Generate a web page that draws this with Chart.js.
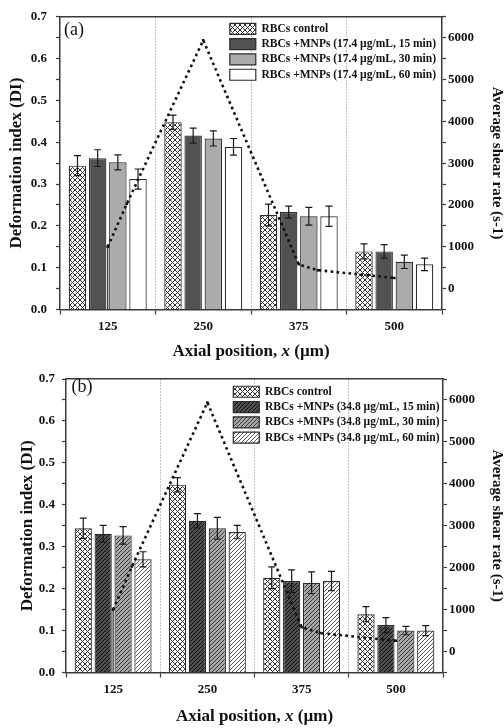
<!DOCTYPE html>
<html>
<head>
<meta charset="utf-8">
<script src="https://cdn.jsdelivr.net/npm/chart.js@4.4.0/dist/chart.umd.min.js"></script>
<style>
  html, body { margin: 0; padding: 0; background: #fff; }
  #wrap { position: relative; width: 504px; height: 728px; }
  .panel { position: absolute; left: 0; width: 504px; height: 364px; }
</style>
</head>
<body>
<div id="wrap">
  <div class="panel" style="top:0"><canvas id="chartA" width="504" height="364"></canvas></div>
  <div class="panel" style="top:364px"><canvas id="chartB" width="504" height="364"></canvas></div>
</div>
<script>
// axial positions (um); x range spans half a step either side
const positions = [125, 250, 375, 500];
const xRange = [62.5, 562.5];

// deformation index, RBCs control (same in both panels)
const controlDI  = [0.344, 0.448, 0.226, 0.139];
const controlErr = [0.024, 0.017, 0.026, 0.018];

// panel (a): 17.4 ug/mL
const a15DI  = [0.362, 0.416, 0.233, 0.139];
const a15Err = [0.020, 0.018, 0.014, 0.016];
const a30DI  = [0.352, 0.409, 0.223, 0.114];
const a30Err = [0.018, 0.018, 0.021, 0.016];
const a60DI  = [0.312, 0.389, 0.223, 0.108];
const a60Err = [0.024, 0.020, 0.024, 0.015];

// panel (b): 34.8 ug/mL
const b15DI  = [0.331, 0.362, 0.218, 0.113];
const b15Err = [0.020, 0.017, 0.027, 0.018];
const b30DI  = [0.327, 0.344, 0.214, 0.100];
const b30Err = [0.021, 0.026, 0.026, 0.010];
const b60DI  = [0.270, 0.335, 0.218, 0.100];
const b60Err = [0.018, 0.016, 0.023, 0.012];

// average shear rate (s-1), dotted line (first point = drop line to the axis)
const shearX    = [125, 125, 150, 250, 375, 400, 500];
const shearRate = [-500, 1000, 2030, 5940, 580, 440, 255];

const serif = "'Liberation Serif', 'Times New Roman', serif";
const ink = '#111';
const frame = '#3a3a3a';

// small tile canvases used as bar fills
function makePattern(target, size, bg, lineColor, cross) {
  const c = document.createElement('canvas');
  c.width = size; c.height = size;
  const g = c.getContext('2d');
  g.fillStyle = bg;
  g.fillRect(0, 0, size, size);
  g.strokeStyle = lineColor;
  g.lineWidth = 1;
  g.beginPath();
  g.moveTo(-1, size + 1); g.lineTo(size + 1, -1);
  g.moveTo(-1, 1); g.lineTo(1, -1);
  g.moveTo(size - 1, size + 1); g.lineTo(size + 1, size - 1);
  if (cross) {
    g.moveTo(-1, -1); g.lineTo(size + 1, size + 1);
    g.moveTo(size - 1, -1); g.lineTo(size + 1, 1);
    g.moveTo(-1, size - 1); g.lineTo(1, size + 1);
  }
  g.stroke();
  return target.getContext('2d').createPattern(c, 'repeat');
}

// error bars from each dataset's means/errors, through the y scale
const errorBars = {
  id: 'errorBars',
  afterDatasetsDraw(chart) {
    const { ctx } = chart;
    const y = chart.scales.y;
    ctx.save();
    ctx.strokeStyle = '#1a1a1a';
    ctx.lineWidth = 1.2;
    chart.data.datasets.forEach((ds, i) => {
      if (!ds.errors) return;
      chart.getDatasetMeta(i).data.forEach((bar, j) => {
        const top = y.getPixelForValue(ds.means[j] + ds.errors[j]);
        const bot = y.getPixelForValue(ds.means[j] - ds.errors[j]);
        ctx.beginPath();
        ctx.moveTo(bar.x, top); ctx.lineTo(bar.x, bot);
        ctx.moveTo(bar.x - 3.5, top); ctx.lineTo(bar.x + 3.5, top);
        ctx.moveTo(bar.x - 3.5, bot); ctx.lineTo(bar.x + 3.5, bot);
        ctx.stroke();
      });
    });
    ctx.restore();
  }
};

// legend placement, panel tag and x title (with italic x)
const panelDecor = {
  id: 'panelDecor',
  afterLayout(chart, args, opts) {
    const lg = chart.legend, a = chart.chartArea;
    lg.left = a.left + opts.legendDx;
    lg.top = a.top + opts.legendDy;
    lg.right = lg.left + 250;
    lg.bottom = lg.top + 100;
  },
  afterDraw(chart, args, opts) {
    const { ctx, chartArea: a } = chart;
    ctx.save();
    ctx.fillStyle = ink;
    ctx.textBaseline = 'middle';
    ctx.textAlign = 'left';
    ctx.font = '18px ' + serif;
    ctx.fillText(opts.tag, a.left + opts.tagDx, a.top + opts.tagDy);

    const parts = [['bold 17px ', 'Axial position, '], ['italic bold 17px ', 'x'], ['bold 17px ', ' (\u00b5m)']];
    let total = 0;
    parts.forEach(p => { ctx.font = p[0] + serif; total += ctx.measureText(p[1]).width; });
    let x = (a.left + a.right) / 2 - total / 2;
    parts.forEach(p => {
      ctx.font = p[0] + serif;
      ctx.fillText(p[1], x, opts.titleY);
      x += ctx.measureText(p[1]).width;
    });
    ctx.restore();
  }
};

const setTicks = values => scale => { scale.ticks = values.map(v => ({ value: v })); };

function buildPanel(canvasId, geo, series, labels) {
  const canvas = document.getElementById(canvasId);
  const tickFont = { family: serif, size: 13, weight: 'bold' };

  const barSets = series.map((s, i) => ({
    type: 'bar',
    label: labels[i],
    data: positions.map((p, j) => ({ x: p, y: s.data[j] })),
    means: s.data,
    errors: s.err,
    backgroundColor: s.fill,
    borderColor: '#2b2b2b',
    borderWidth: 1.2,
    categoryPercentage: 0.845,
    barPercentage: 0.865,
    xAxisID: 'x',
    yAxisID: 'y',
    order: 1
  }));

  const shearLine = {
    type: 'line',
    label: 'Average shear rate',
    data: shearX.map((x, i) => ({ x: x, y: shearRate[i] })),
    xAxisID: 'x',
    yAxisID: 'y2',
    borderColor: ink,
    borderWidth: 2.6,
    borderDash: [2.6, 3.4],
    borderCapStyle: 'butt',
    tension: 0,
    fill: false,
    pointStyle: 'rect',
    pointRadius: c => (c.dataIndex === 0 ? 0 : 1.8),
    pointBackgroundColor: ink,
    pointBorderWidth: 0,
    segment: {
      borderDash: c => (c.p0DataIndex === 0 ? [] : undefined),
      borderWidth: c => (c.p0DataIndex === 0 ? 1.1 : undefined)
    },
    order: 0
  };

  return new Chart(canvas, {
    type: 'bar',
    data: { datasets: barSets.concat([shearLine]) },
    plugins: [errorBars, panelDecor],
    options: {
      responsive: false,
      animation: false,
      devicePixelRatio: 1,
      layout: { padding: { top: geo.top, left: 0, right: 0, bottom: 0 } },
      plugins: {
        tooltip: { enabled: false },
        legend: {
          position: 'chartArea',
          align: 'start',
          labels: {
            boxWidth: 26,
            boxHeight: 11,
            padding: 3.8,
            color: ink,
            font: { family: serif, size: 11.5, weight: 'bold' },
            filter: item => item.datasetIndex < 4
          }
        },
        panelDecor: {
          tag: geo.tag, tagDx: geo.tagDx, tagDy: geo.tagDy,
          legendDx: geo.legendDx, legendDy: geo.legendDy,
          titleY: geo.titleY
        }
      },
      scales: {
        x: {
          type: 'linear',
          position: 'bottom',
          offset: false,
          min: xRange[0],
          max: xRange[1],
          afterBuildTicks: setTicks(positions),
          grid: { display: true, drawOnChartArea: false, drawTicks: true, tickLength: 5, tickColor: frame, tickWidth: 1.2 },
          border: { display: true, color: frame, width: 1.5 },
          ticks: { font: tickFont, color: ink, padding: 4, autoSkip: false, maxRotation: 0, callback: v => String(v) },
          afterFit: s => { s.height = geo.xh; }
        },
        // top frame + dotted separators between positions
        xt: {
          type: 'category',
          position: 'top',
          offset: true,
          labels: positions.map(String),
          grid: {
            display: true,
            offset: true,
            drawOnChartArea: true,
            drawTicks: false,
            lineWidth: 1,
            color: c => (c.type === 'tick' && c.index > 0 ? '#8a8a8a' : 'rgba(0,0,0,0)')
          },
          border: { display: true, color: frame, width: 1.5, dash: [1, 2] },
          ticks: { display: false },
          afterFit: s => { s.height = 0; }
        },
        y: {
          type: 'linear',
          position: 'left',
          min: 0,
          max: 0.7,
          ticks: {
            stepSize: 0.05,
            maxTicksLimit: 20,
            autoSkip: false,
            font: tickFont,
            color: ink,
            padding: geo.lpad,
            callback: v => (Math.round(v * 100) % 10 === 0 ? v.toFixed(1) : '')
          },
          grid: { drawOnChartArea: false, drawTicks: true, tickLength: 4, tickColor: frame, tickWidth: 1.2 },
          border: { color: frame, width: 1.5 },
          title: {
            display: true,
            text: 'Deformation index (DI)',
            color: ink,
            font: { family: serif, size: 17, weight: 'bold' },
            padding: { top: geo.ltp, bottom: 0 }
          },
          afterFit: s => { s.width = geo.left; }
        },
        y2: {
          type: 'linear',
          position: 'right',
          min: -500,
          max: 6500,
          ticks: {
            stepSize: 500,
            maxTicksLimit: 20,
            autoSkip: false,
            font: tickFont,
            color: ink,
            padding: 2,
            callback: v => (v % 1000 === 0 && v >= 0 && v <= 6000 ? String(v) : '')
          },
          grid: { drawOnChartArea: false, drawTicks: true, tickLength: 4, tickColor: frame, tickWidth: 1.2 },
          border: { color: frame, width: 1.5 },
          title: {
            display: true,
            text: 'Average shear rate (s-1)',
            color: ink,
            font: { family: serif, size: 15, weight: 'bold', lineHeight: 1 },
            padding: { top: 0, bottom: 0 }
          },
          afterFit: s => { s.width = 504 - geo.right; }
        }
      }
    }
  });
}

const cA = document.getElementById('chartA');
const cB = document.getElementById('chartB');

buildPanel('chartA',
  { top: 12, left: 60, right: 442, xh: 54.5, lpad: 9, ltp: 6, tag: '(a)', tagDx: 4, tagDy: 13,
    legendDx: 166, legendDy: 2.5, titleY: 352 },
  [
    { data: controlDI, err: controlErr, fill: makePattern(cA, 5, '#ffffff', '#333333', true) },
    { data: a15DI, err: a15Err, fill: '#525252' },
    { data: a30DI, err: a30Err, fill: '#ababab' },
    { data: a60DI, err: a60Err, fill: '#ffffff' }
  ],
  ['RBCs control',
   'RBCs +MNPs (17.4 \u00b5g/mL, 15 min)',
   'RBCs +MNPs (17.4 \u00b5g/mL, 30 min)',
   'RBCs +MNPs (17.4 \u00b5g/mL, 60 min)']);

buildPanel('chartB',
  { top: 15, left: 66, right: 443, xh: 55.5, lpad: 7, ltp: 17, tag: '(b)', tagDx: 5.5, tagDy: 8.5,
    legendDx: 163.5, legendDy: 3.2, titleY: 353 },
  [
    { data: controlDI, err: controlErr, fill: makePattern(cB, 5, '#ffffff', '#333333', true) },
    { data: b15DI, err: b15Err, fill: makePattern(cB, 4, '#4e4e4e', '#111111', false) },
    { data: b30DI, err: b30Err, fill: makePattern(cB, 4, '#a6a6a6', '#3c3c3c', false) },
    { data: b60DI, err: b60Err, fill: makePattern(cB, 4, '#ffffff', '#555555', false) }
  ],
  ['RBCs control',
   'RBCs +MNPs (34.8 \u00b5g/mL, 15 min)',
   'RBCs +MNPs (34.8 \u00b5g/mL, 30 min)',
   'RBCs +MNPs (34.8 \u00b5g/mL, 60 min)']);
</script>
</body>
</html>
